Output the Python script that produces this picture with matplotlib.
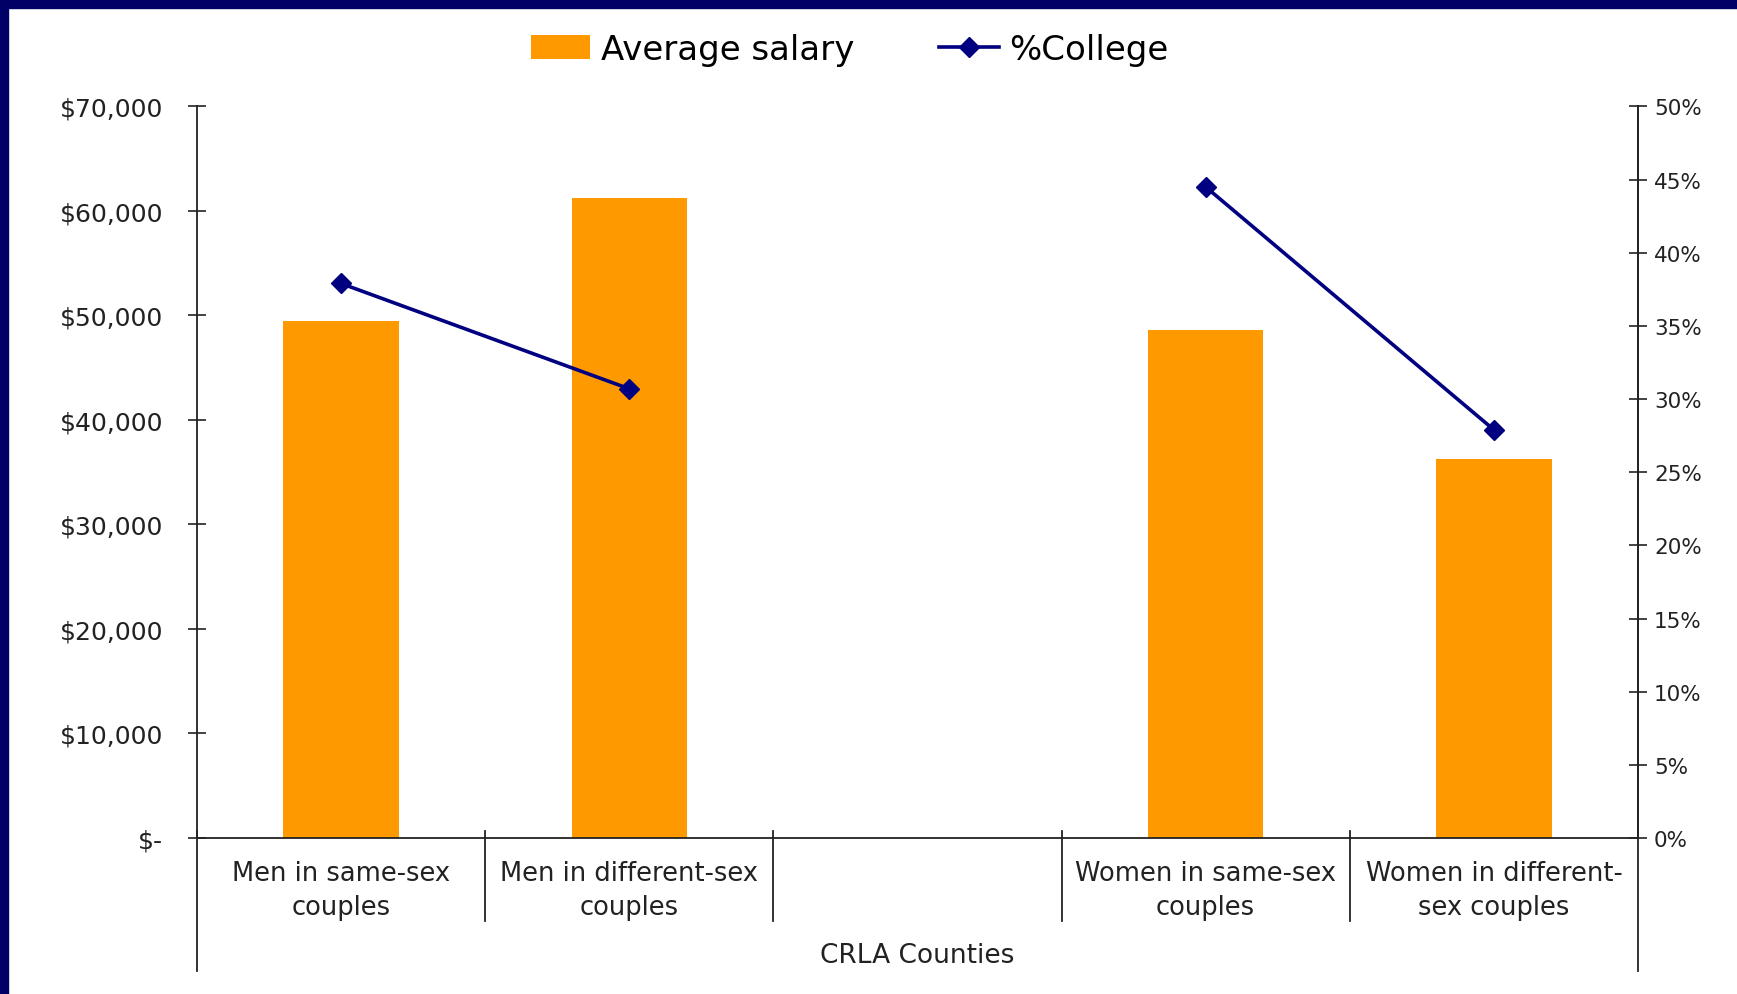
import numpy as np
import matplotlib.pyplot as plt
from matplotlib.patches import Rectangle

plt.rcParams['font.family'] = ['DejaVu Sans']

# data
categories = ["Men in same-sex\ncouples", "Men in different-sex\ncouples", "",
              "Women in same-sex\ncouples", "Women in different-\nsex couples"]
salary = [49500, 61200, np.nan, 48600, 36300]
college = [0.379, 0.307, np.nan, 0.445, 0.279]
salary_ticks = [0, 10000, 20000, 30000, 40000, 50000, 60000, 70000]
salary_labels = ["$-", "$10,000", "$20,000", "$30,000", "$40,000",
                 "$50,000", "$60,000", "$70,000"]
pct_ticks = [0, .05, .10, .15, .20, .25, .30, .35, .40, .45, .50]
pct_labels = ["0%", "5%", "10%", "15%", "20%", "25%", "30%", "35%",
              "40%", "45%", "50%"]
group_label = "CRLA Counties"

navy = "#000080"
orange = "#FF9900"
ink = "#222222"

fig = plt.figure(figsize=(17.37, 9.95), dpi=100)
ax = fig.add_axes([0.1134, 0.1568, 0.8296, 0.7352])

x = np.arange(len(categories))
bars = ax.bar(x, salary, width=0.4, color=orange, label="Average salary", zorder=2)
ax.set_xlim(-0.5, len(categories) - 0.5)
ax.set_ylim(0, 70000)
ax.set_yticks(salary_ticks)
ax.set_yticklabels(salary_labels)
ax.tick_params(axis='y', direction='inout', length=13, width=1.2,
               labelsize=18, pad=18, colors=ink)
ax.set_xticks(x)
ax.set_xticklabels(categories, fontsize=18.5, linespacing=1.4, color=ink)
ax.tick_params(axis='x', length=0, pad=16)

ax.spines['top'].set_visible(False)
for s in ['left', 'bottom', 'right']:
    ax.spines[s].set_linewidth(1.3)
    ax.spines[s].set_color(ink)

# category separators below the axis
tr = ax.get_xaxis_transform()
for i, xs in enumerate(np.arange(-0.5, len(categories), 1.0)):
    low = -0.182 if i in (0, len(categories)) else -0.114
    ax.plot([xs, xs], [0.009, low], transform=tr, color=ink,
            lw=1.3, clip_on=False)
ax.text((len(categories) - 1) / 2, -0.16, group_label, transform=tr,
        ha='center', va='center', fontsize=19, color=ink)

ax2 = ax.twinx()
ax2.set_ylim(0, 0.5)
ax2.set_yticks(pct_ticks)
ax2.set_yticklabels(pct_labels)
ax2.tick_params(axis='y', direction='inout', length=13, width=1.2,
                labelsize=15.5, pad=5, colors=ink)
for s in ['top', 'left', 'bottom']:
    ax2.spines[s].set_visible(False)
ax2.spines['right'].set_linewidth(1.3)
ax2.spines['right'].set_color(ink)
line, = ax2.plot(x, college, color=navy, lw=2.6, marker='D', markersize=10,
                 label="%College", zorder=3)

fig.legend([bars, line], ["Average salary", "%College"], loc='upper center',
           bbox_to_anchor=(0.489, 0.997), ncol=2, frameon=False, fontsize=24.5,
           handlelength=1.75, handleheight=0.7, columnspacing=2.5,
           handletextpad=0.3)

# navy slide border on top and left
fig.patches.append(Rectangle((0, 1 - 9 / 995), 1, 9 / 995, transform=fig.transFigure,
                             color="#000066", zorder=10))
fig.patches.append(Rectangle((0, 0), 8 / 1737, 1, transform=fig.transFigure,
                             color="#000066", zorder=10))

fig.savefig("out.png", dpi=100)
